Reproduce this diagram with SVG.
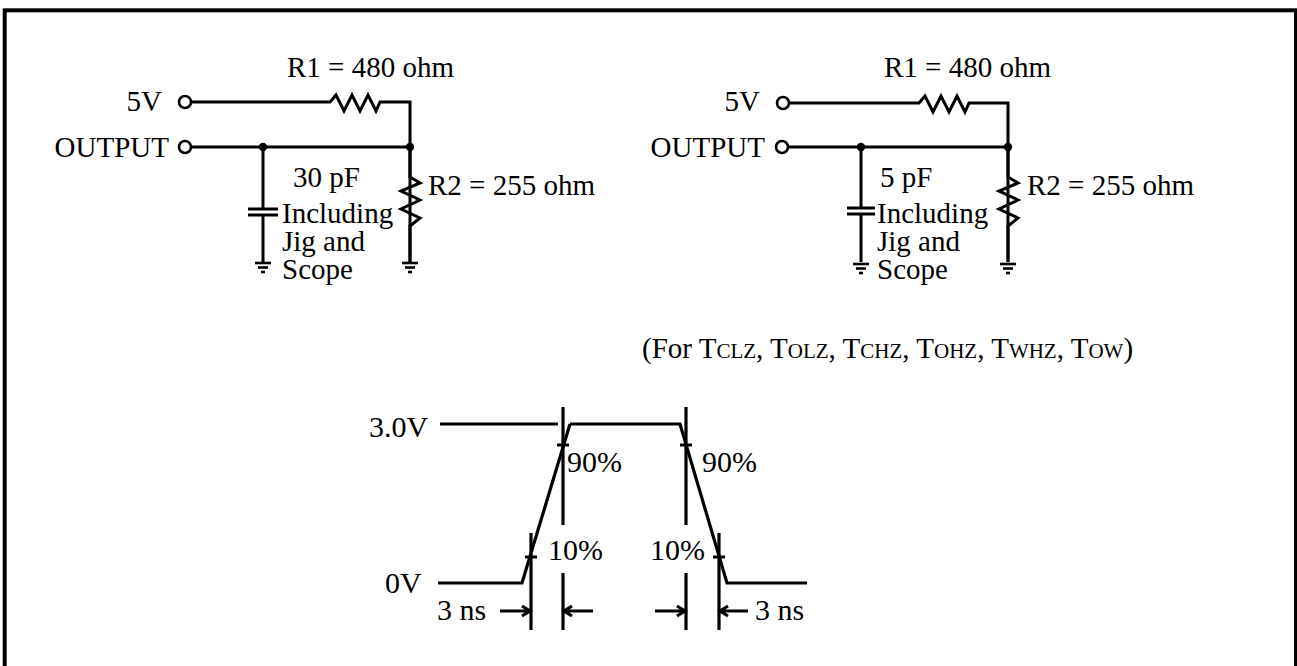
<svg xmlns="http://www.w3.org/2000/svg" width="1297" height="666" viewBox="0 0 1297 666">
<defs>
<style>
text{font-family:"Liberation Serif","Times New Roman",serif;font-size:29px;fill:#000}
.wt{font-size:30px}
.w{fill:none;stroke:#000;stroke-width:3;stroke-linejoin:miter}
.wv{fill:none;stroke:#000;stroke-width:3.2}
.term{fill:#fff;stroke:#000;stroke-width:2.6}
.dot{fill:#000}
.sm{font-size:21px}
</style>
<g id="gnd"><line x1="-8" y1="0" x2="8" y2="0" stroke="#000" stroke-width="2.6"/><line x1="-5" y1="4.5" x2="5" y2="4.5" stroke="#000" stroke-width="2.6"/><line x1="-2" y1="9" x2="2" y2="9" stroke="#000" stroke-width="2.6"/></g>
</defs>
<rect x="4.7" y="10.3" width="1291.3" height="700" fill="#fff" stroke="#000" stroke-width="4"/>

<g id="circuit-left">
<g id="L-conn">
<path class="w" d="M192,102 H330 L336,95 L344,111 L352,95 L360,111 L368,95 L376,111 L380,102 H410 V262"/>
<path class="w" d="M192,147 H410"/>
<path class="w" d="M263,147 V209 M248,209 H278 M248,215 H278 M263,215 V262"/>
<path class="w" d="M410,147 V177 L420,183 L401,191 L420,200 L401,209 L420,218 L410,226 V262"/>
</g>
<circle class="term" cx="185" cy="102" r="6"/>
<circle class="term" cx="185" cy="147" r="6"/>
<circle class="dot" cx="263" cy="147" r="4.2"/>
<circle class="dot" cx="410" cy="147" r="4.2"/>
<use href="#gnd" x="263" y="263"/>
<use href="#gnd" x="410" y="263"/>
<text x="287" y="77">R1 = 480 ohm</text>
<text x="162" y="111" text-anchor="end">5V</text>
<text x="169" y="157" text-anchor="end">OUTPUT</text>
<text x="293" y="187">30 pF</text>
<text x="282" y="223">Including</text>
<text x="282" y="251">Jig and</text>
<text x="282" y="279">Scope</text>
<text x="428" y="195">R2 = 255 ohm</text>
</g>

<g id="circuit-right">
<g id="R-conn">
<path class="w" d="M789,103 H919 L925,96 L933,112 L941,96 L949,112 L957,96 L965,112 L969,103 H1008 V262"/>
<path class="w" d="M788,147 H1008"/>
<path class="w" d="M861,147 V208 M847,208 H875 M847,214 H875 M861,214 V262"/>
<path class="w" d="M1008,147 V177 L1018,183 L999,191 L1018,200 L999,209 L1018,218 L1008,226 V262"/>
</g>
<circle class="term" cx="783" cy="103" r="6"/>
<circle class="term" cx="782" cy="147" r="6"/>
<circle class="dot" cx="861" cy="147" r="4.2"/>
<circle class="dot" cx="1008" cy="147" r="4.2"/>
<use href="#gnd" x="861" y="264"/>
<use href="#gnd" x="1008" y="264"/>
<text x="884" y="77">R1 = 480 ohm</text>
<text x="760" y="111" text-anchor="end">5V</text>
<text x="765" y="157" text-anchor="end">OUTPUT</text>
<text x="880" y="187">5 pF</text>
<text x="877" y="223">Including</text>
<text x="877" y="251">Jig and</text>
<text x="877" y="279">Scope</text>
<text x="1027" y="195">R2 = 255 ohm</text>
</g>

<text id="note" x="642" y="358">(For T<tspan class="sm">CLZ</tspan>, T<tspan class="sm">OLZ</tspan>, T<tspan class="sm">CHZ</tspan>, T<tspan class="sm">OHZ</tspan>, T<tspan class="sm">WHZ</tspan>, T<tspan class="sm">OW</tspan>)</text>

<g id="waveform">
<path class="wv" d="M440,424 H558 M570,424 H680 L727,583 H807 M438,583 H522 L570,424"/>
<path class="wv" d="M531,533 V630 M563,407 V525 M563,573 V630 M686,407 V525 M686,573 V630 M719,533 V630"/>
<path class="wv" d="M525,557 H537 M557,445 H569 M680,445 H692 M713,557 H725"/>
<g id="arrows" class="wv" stroke-width="2">
<path d="M500,611 H530 M522,606 L530,611 L522,616"/>
<path d="M564,611 H593 M572,606 L564,611 L572,616"/>
<path d="M655,611 H685 M677,606 L685,611 L677,616"/>
<path d="M720,611 H748 M728,606 L720,611 L728,616"/>
</g>
<text class="wt" x="369" y="437">3.0V</text>
<text class="wt" x="385" y="593">0V</text>
<text class="wt" x="567" y="472">90%</text>
<text class="wt" x="702" y="472">90%</text>
<text class="wt" x="548" y="560">10%</text>
<text class="wt" x="650" y="560">10%</text>
<text class="wt" x="437" y="620">3 ns</text>
<text class="wt" x="755" y="620">3 ns</text>
</g>
</svg>
